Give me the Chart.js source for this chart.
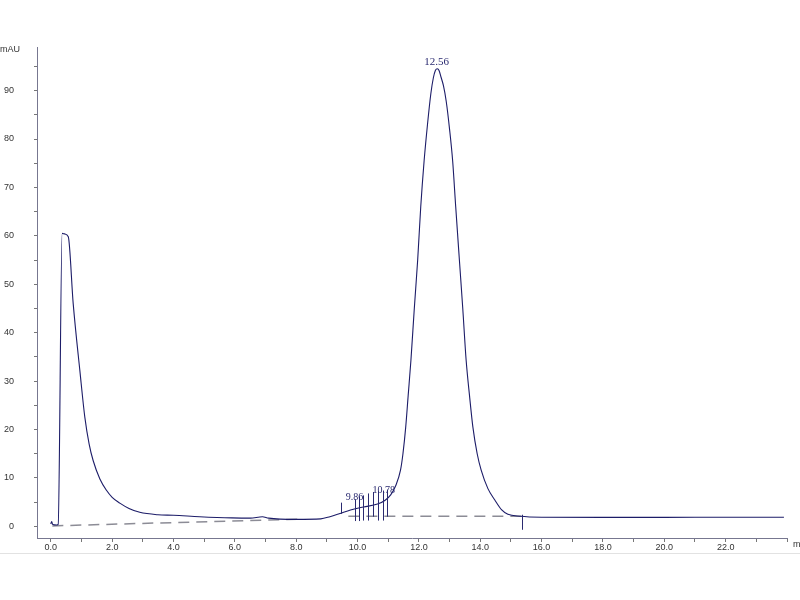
<!DOCTYPE html>
<html>
<head>
<meta charset="utf-8">
<script src="https://cdn.jsdelivr.net/npm/chart.js@4.4.1/dist/chart.umd.min.js"></script>
<style>
  html, body { margin: 0; padding: 0; background: #fff; }
  #wrap { width: 800px; height: 600px; }
</style>
</head>
<body>
<div id="wrap"><canvas id="chromChart" width="800" height="600"></canvas></div>
<script>
// retention time (min) and detector signal (mAU)
const times = [0.0, 0.03, 0.06, 0.2, 0.24, 0.37, 0.45, 0.57, 0.73, 0.95, 1.11, 1.25, 1.38,
    1.6, 1.82, 2.0, 2.25, 2.55, 2.9, 3.49, 4.0, 4.85, 5.9, 6.5, 6.9, 7.1, 8.0, 8.8, 9.1, 9.4,
    9.77, 10.2, 10.65, 10.9, 11.08, 11.25, 11.4, 11.48, 11.57, 11.65, 11.74, 11.85, 11.96, 12.06,
    12.17, 12.28, 12.39, 12.47, 12.54, 12.6, 12.66, 12.72, 12.8, 12.89, 13.0, 13.1, 13.2, 13.32,
    13.43, 13.54, 13.65, 13.76, 13.9, 14.03, 14.25, 14.47, 14.7, 14.9, 15.3, 16.0, 18.0,
    20.0, 22.0, 23.9];
const signal = [0.5, 1.0, 0.4, 0.3, 0.4, 60.5, 60.4, 59.8, 46.0, 32.0, 22.5, 17.0, 13.6,
    9.8, 7.4, 6.0, 4.8, 3.7, 2.9, 2.4, 2.3, 2.0, 1.75, 1.7, 2.0, 1.7, 1.45, 1.55, 2.0, 2.6,
    3.4, 4.0, 4.6, 5.4, 6.5, 8.5, 11.6, 15.0, 20.5, 27.0, 34.3, 45.0, 55.0, 66.0,
    75.5, 83.0, 89.4, 92.6, 94.2, 94.5, 94.1, 92.8, 91.0, 87.8, 82.0, 75.5, 66.0, 55.0,
    45.0, 34.3, 27.0, 20.5, 15.0, 11.6, 7.8, 5.5, 3.4, 2.5, 2.1, 1.9, 1.85,
    1.85, 1.9, 1.9];

// integration baseline (dashed)
const baseTimes = [0.05, 8.1, null, 9.7, 15.4];
const baseValues = [0.1, 1.5, null, 2.1, 2.1];

// integration event markers
const markerTimes = [9.46, 9.91, 10.04, 10.17, 10.34, 10.5, 10.66, 10.83, 10.96, 15.35];
const markerLow = [2.6, 1.1, 1.1, 1.2, 1.2, 2.0, 1.2, 1.2, 2.0, -0.7];
const markerHigh = [4.9, 5.6, 6.2, 6.4, 6.8, 7.1, 7.3, 7.4, 7.6, 2.4];

// peak labels
const peakLabels = ['9.86', '10.78', '12.56'];
const peakLabelTimes = [9.9, 10.85, 12.58];
const peakLabelValues = [5.4, 6.9, 95.2];

const xTicks = [];
for (let v = 0; v <= 24; v++) xTicks.push(v);
const yTicks = [];
for (let v = 0; v <= 95; v += 5) yTicks.push(v);

const extras = {
    id: 'extras',
    afterDatasetsDraw(chart) {
        const ctx = chart.ctx;
        const xs = chart.scales.x, ys = chart.scales.y;
        ctx.save();
        ctx.strokeStyle = '#2a2a70';
        ctx.lineWidth = 1;
        markerTimes.forEach((t, i) => {
            const px = Math.round(xs.getPixelForValue(t)) + 0.5;
            ctx.beginPath();
            ctx.moveTo(px, ys.getPixelForValue(markerLow[i]));
            ctx.lineTo(px, ys.getPixelForValue(markerHigh[i]));
            ctx.stroke();
        });
        ctx.fillStyle = '#2a2a70';
        ctx.textAlign = 'center';
        ctx.textBaseline = 'alphabetic';
        peakLabels.forEach((s, i) => {
            ctx.font = i === 2 ? '11px "Liberation Serif"' : '10px "Liberation Serif"';
            ctx.fillText(s, xs.getPixelForValue(peakLabelTimes[i]), ys.getPixelForValue(peakLabelValues[i]));
        });
        // units
        ctx.fillStyle = '#333';
        ctx.font = '9px "Liberation Sans"';
        ctx.textAlign = 'left';
        ctx.textBaseline = 'middle';
        ctx.fillText('mAU', 0, 50);
        ctx.fillText('min', 793, 545);
        // frame line under the plot
        ctx.strokeStyle = '#e2e2e2';
        ctx.beginPath();
        ctx.moveTo(0, 553.5);
        ctx.lineTo(800, 553.5);
        ctx.stroke();
        ctx.restore();
    }
};

const tickFont = { family: '"Liberation Sans", Arial, sans-serif', size: 9 };

new Chart(document.getElementById('chromChart').getContext('2d'), {
    type: 'line',
    data: {
        datasets: [
            {
                label: 'signal',
                data: times.map((t, i) => ({ x: t, y: signal[i] })),
                borderColor: '#1c1c68',
                borderWidth: 1.1,
                pointRadius: 0,
                cubicInterpolationMode: 'monotone'
            },
            {
                label: 'baseline',
                data: baseTimes.map((t, i) => t === null ? { x: 9, y: null } : { x: t, y: baseValues[i] }),
                borderColor: '#8c8c96',
                borderWidth: 1.5,
                borderDash: [11, 7],
                pointRadius: 0,
                spanGaps: false
            }
        ]
    },
    options: {
        responsive: false,
        animation: false,
        layout: { padding: { top: 47, right: 13, left: 0, bottom: 0 } },
        plugins: { legend: { display: false }, tooltip: { enabled: false } },
        scales: {
            x: {
                type: 'linear',
                min: -0.45,
                max: 24.0,
                afterFit: s => { s.height = 62; },
                afterBuildTicks: s => { s.ticks = xTicks.map(v => ({ value: v })); },
                ticks: {
                    autoSkip: false,
                    maxRotation: 0,
                    padding: 0,
                    color: '#333',
                    font: tickFont,
                    callback: v => (v % 2 === 0 && v < 24) ? v.toFixed(1) : ''
                },
                grid: { drawOnChartArea: false, tickLength: 4, color: '#777' },
                border: { color: '#777790' }
            },
            y: {
                min: -2.4,
                max: 99,
                afterFit: s => { s.width = 37; },
                afterBuildTicks: s => { s.ticks = yTicks.map(v => ({ value: v })); },
                ticks: {
                    autoSkip: false,
                    padding: 20,
                    color: '#333',
                    font: tickFont,
                    callback: v => v % 10 === 0 ? String(v) : ''
                },
                grid: { drawOnChartArea: false, tickLength: 3, color: '#777' },
                border: { color: '#777790' }
            }
        }
    },
    plugins: [extras]
});
</script>
</body>
</html>
